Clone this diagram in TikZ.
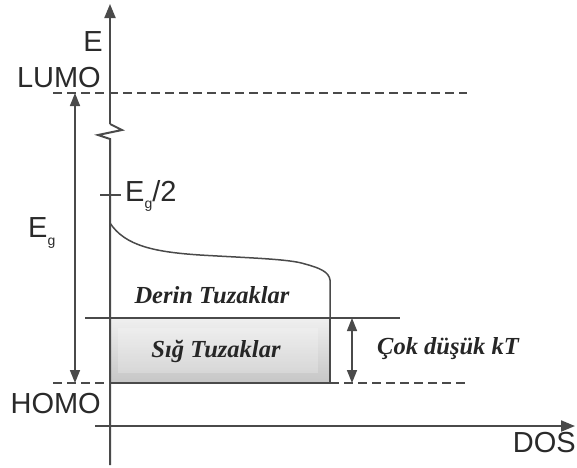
\documentclass[tikz,border=0pt]{standalone}
\usepackage{fontspec}
\setmainfont{Liberation Serif}
\newfontfamily\arialfont{Liberation Sans}
\usetikzlibrary{arrows.meta}
\definecolor{ln}{HTML}{4A4A4A}
\definecolor{txt}{HTML}{2A2A2A}
\tikzset{
  axisline/.style={draw=ln, line width=2pt},
  thinline/.style={draw=ln, line width=1.5pt},
  dashline/.style={draw=ln, line width=1.6pt, dash pattern=on 9pt off 5pt},
  arrowtip/.style={-{Triangle[length=14pt,width=11pt]}},
  dblarrow/.style={{Triangle[length=13pt,width=10pt]}-{Triangle[length=13pt,width=10pt]}},
  sanslbl/.style={font=\arialfont\fontsize{29}{29}\selectfont, text=txt, inner sep=0pt},
  traplbl/.style={font=\bfseries\itshape\fontsize{24.5}{24.5}\selectfont, text=black!85, inner sep=0pt}
}
\begin{document}
\begin{tikzpicture}[x=1pt,y=-1pt]
\useasboundingbox (0,0) rectangle (577,467);
% shaded shallow-trap box
\shade[top color=gray!12, bottom color=gray!45] (110,318) rectangle (330,383);
\fill[white, opacity=0.22] (118,328) rectangle (318,373);
\draw[thinline] (110,318) rectangle (330,383);
% coordinates
\coordinate (ytop) at (110,4);
\coordinate (zz0) at (110,124);
\coordinate (zz1) at (122,130);
\coordinate (zz2) at (98,135);
\coordinate (zz3) at (110,139);
\coordinate (ybot) at (110,465);
\coordinate (xl) at (95,426);
\coordinate (xr) at (575,426);
\coordinate (lumoL) at (53,93);
\coordinate (lumoR) at (467,93);
\coordinate (homoL) at (53,383);
\coordinate (homoR) at (467,383);
\coordinate (shL) at (85,318);
\coordinate (shR) at (400,318);
\coordinate (egT) at (75,93);
\coordinate (egB) at (75,383);
\coordinate (kTT) at (352,318);
\coordinate (kTB) at (352,383);
\coordinate (tickL) at (100,195);
\coordinate (tickR) at (121,195);
% dashed levels
\draw[dashline] (lumoL) -- (lumoR);
\draw[dashline] (homoL) -- (110,383);
\draw[dashline] (330,383) -- (homoR);
% E axis with break
\draw[axisline, arrowtip] (zz0) -- (ytop);
\draw[axisline, line join=miter] (zz0) -- (zz1) -- (zz2) -- (zz3) -- (ybot);
% DOS axis
\draw[axisline, arrowtip] (xl) -- (xr);
% shallow trap top line
\draw[thinline] (shL) -- (shR);
% Eg/2 tick
\draw[thinline] (tickL) -- (tickR);
% DOS curve
\draw[thinline] (110,223) .. controls (125,246) and (155,252) .. (200,255)
  .. controls (250,258) and (290,259) .. (305,264)
  .. controls (320,268) and (329,272) .. (330,280) -- (330,318);
% double arrows
\draw[thinline, dblarrow] (egT) -- (egB);
\draw[thinline, dblarrow] (kTT) -- (kTB);
% labels
\node[sanslbl] (E) at (93,42) {E};
\node[sanslbl, anchor=east] (lumo) at (101,78) {LUMO};
\node[sanslbl, anchor=east] (homo) at (101,404) {HOMO};
\node[sanslbl, anchor=east] (dos) at (576,443) {DOS};
\node[sanslbl, anchor=west] (eg2) at (125,196) {E\raisebox{-0.25em}{\fontsize{14}{14}\selectfont g}/2};
\node[sanslbl, anchor=west] (eg) at (28,233) {E\raisebox{-0.25em}{\fontsize{14}{14}\selectfont g}};
\node[traplbl] (derin) at (212,295) {Derin Tuzaklar};
\node[traplbl] (sig) at (216,351) {Sığ Tuzaklar};
\node[traplbl, anchor=west] (kt) at (377,349) {Çok düşük kT};
\end{tikzpicture}
\end{document}
